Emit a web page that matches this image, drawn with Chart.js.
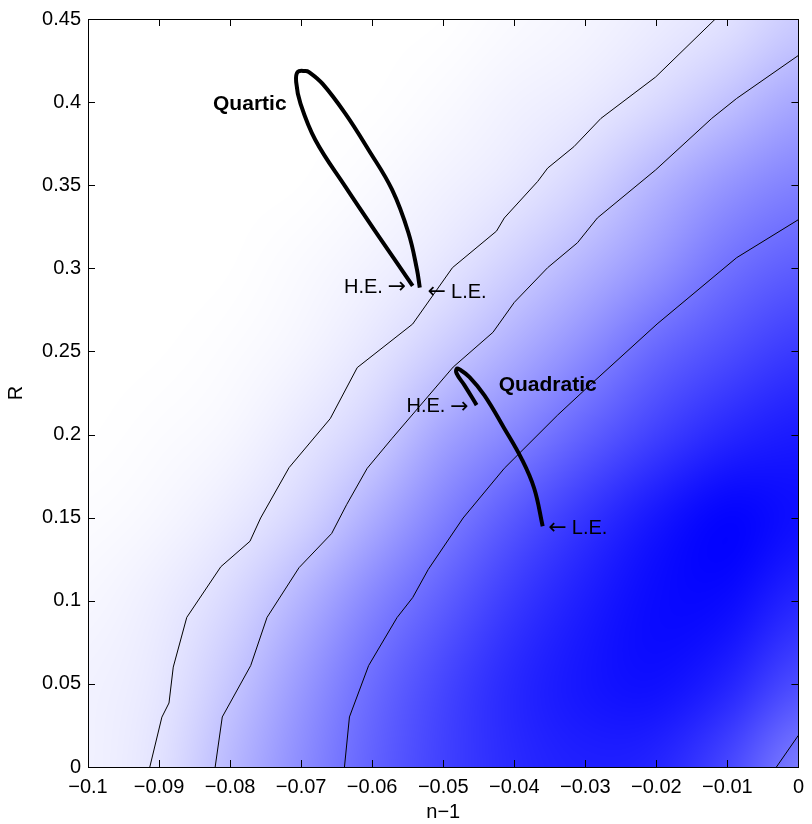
<!DOCTYPE html>
<html>
<head>
<meta charset="utf-8">
<script src="https://cdn.jsdelivr.net/npm/chart.js@4.4.1/dist/chart.umd.min.js"></script>
<style>
  html, body { margin: 0; padding: 0; background: #fff; }
  #chart { display: block; }
</style>
</head>
<body>
<canvas id="chart" width="812" height="824"></canvas>
<script>
// axis ticks
const xTicks = [-0.1, -0.09, -0.08, -0.07, -0.06, -0.05, -0.04, -0.03, -0.02, -0.01, 0];
const xTickLabels = ["\u22120.1", "\u22120.09", "\u22120.08", "\u22120.07", "\u22120.06", "\u22120.05",
  "\u22120.04", "\u22120.03", "\u22120.02", "\u22120.01", "0"];
const yTicks = [0, 0.05, 0.1, 0.15, 0.2, 0.25, 0.3, 0.35, 0.4, 0.45];
const yTickLabels = ["0", "0.05", "0.1", "0.15", "0.2", "0.25", "0.3", "0.35", "0.4", "0.45"];

// shading field (0 = white, 1 = full blue)
const gridX = [-0.1, -0.09, -0.08, -0.07, -0.06, -0.05, -0.04, -0.03, -0.02, -0.01, 0];
const gridY = [0, 0.05, 0.1, 0.15, 0.2, 0.25, 0.3, 0.35, 0.4, 0.45];
const shading = [
  [0.05, 0.11, 0.28, 0.45, 0.62, 0.75, 0.84, 0.88, 0.86, 0.72, 0.50], // R = 0
  [0.05, 0.09, 0.22, 0.40, 0.58, 0.73, 0.85, 0.92, 0.95, 0.87, 0.70], // 0.05
  [0.03, 0.07, 0.15, 0.30, 0.48, 0.63, 0.78, 0.89, 0.97, 0.97, 0.85], // 0.1
  [0.01, 0.03, 0.08, 0.16, 0.32, 0.50, 0.66, 0.80, 0.92, 1.00, 0.95], // 0.15
  [0.00, 0.01, 0.03, 0.09, 0.18, 0.36, 0.48, 0.62, 0.75, 0.85, 0.90], // 0.2
  [0.00, 0.00, 0.01, 0.04, 0.10, 0.20, 0.32, 0.45, 0.60, 0.70, 0.78], // 0.25
  [0.00, 0.00, 0.00, 0.02, 0.05, 0.10, 0.19, 0.30, 0.42, 0.56, 0.64], // 0.3
  [0.00, 0.00, 0.00, 0.00, 0.02, 0.05, 0.09, 0.17, 0.30, 0.42, 0.50], // 0.35
  [0.00, 0.00, 0.00, 0.00, 0.00, 0.02, 0.05, 0.08, 0.14, 0.24, 0.35], // 0.4
  [0.00, 0.00, 0.00, 0.00, 0.00, 0.00, 0.02, 0.04, 0.07, 0.11, 0.20]  // 0.45
];

// contour lines
const contour1X = [-0.0913, -0.0896, -0.0886, -0.0880, -0.0861, -0.0813, -0.0772, -0.0757, -0.0717, -0.0659,
  -0.0621, -0.0543, -0.0487, -0.0425, -0.0414, -0.0367, -0.0353, -0.0316, -0.0278, -0.0201, -0.0117];
const contour1Y = [0, 0.030, 0.0385, 0.0601, 0.0900, 0.1205, 0.1358, 0.1498, 0.1801, 0.2096,
  0.2403, 0.2665, 0.3004, 0.3224, 0.3303, 0.3523, 0.3603, 0.3732, 0.3902, 0.4151, 0.45];

const contour2X = [-0.0821, -0.0811, -0.0771, -0.0748, -0.0703, -0.0657, -0.0636, -0.0607, -0.0572, -0.0486,
  -0.0430, -0.0400, -0.0353, -0.0311, -0.0283, -0.0201, -0.0122, -0.0087, 0];
const contour2Y = [0, 0.0301, 0.0610, 0.0900, 0.1199, 0.1405, 0.1578, 0.1797, 0.1977, 0.2406,
  0.2615, 0.2795, 0.3004, 0.3154, 0.3303, 0.3592, 0.3902, 0.4022, 0.4281];

const contour3X = [-0.0639, -0.0632, -0.0605, -0.0565, -0.0543, -0.0521, -0.0472, -0.0414, -0.0339, -0.0299,
  -0.0199, -0.0087, 0];
const contour3Y = [0, 0.0301, 0.0610, 0.0899, 0.1019, 0.1189, 0.1498, 0.1797, 0.2117, 0.2276,
  0.2665, 0.3064, 0.3293];

const contour4X = [-0.0031, 0];
const contour4Y = [0, 0.0191];

// blade sections
const quarticX = [-0.0543, -0.0591, -0.0638, -0.0680, -0.0701, -0.0707, -0.0705, -0.0694, -0.0689, -0.0670,
  -0.0638, -0.0605, -0.0572, -0.0549, -0.0537, -0.0533];
const quarticY = [0.2895, 0.3194, 0.3493, 0.3772, 0.3992, 0.4121, 0.4181, 0.4187, 0.4181, 0.4111,
  0.3932, 0.3712, 0.3473, 0.3214, 0.2994, 0.2884];

const quadraticX = [-0.0453, -0.0470, -0.0481, -0.0481, -0.0477, -0.0463, -0.0442, -0.0414, -0.0390, -0.0372, -0.0360];
const quadraticY = [0.2177, 0.2296, 0.2366, 0.2396, 0.2392, 0.2346, 0.2236, 0.2037, 0.1857, 0.1677, 0.1448];

// annotations: arrow "r" points right (after text), "l" points left (before text)
const noteText = ["Quartic", "H.E.", "L.E.", "Quadratic", "H.E.", "L.E."];
const noteArrow = ["", "r", "l", "", "r", "l"];
const noteX = [-0.0824, -0.0552, -0.0522, -0.0422, -0.0464, -0.0352];
const noteY = [0.399, 0.2884, 0.2855, 0.2296, 0.2166, 0.1434];
const noteBold = [true, false, false, true, false, false];

const FONT = "'Liberation Sans', Arial, Helvetica, sans-serif";

function pts(xs, ys) {
  return xs.map((x, i) => ({ x: x, y: ys[i] }));
}

function lineSet(xs, ys, width, tension) {
  return {
    data: pts(xs, ys),
    showLine: true,
    borderColor: "#000",
    borderWidth: width,
    pointRadius: 0,
    borderJoinStyle: "round",
    tension: tension,
  };
}

// filled field under the lines
const shadePlugin = {
  id: "shade",
  beforeDatasetsDraw(chart) {
    const { ctx, chartArea: a, scales: { x, y } } = chart;
    const cols = gridX.length, rows = gridY.length;
    const off = document.createElement("canvas");
    off.width = cols;
    off.height = rows;
    const octx = off.getContext("2d");
    const img = octx.createImageData(cols, rows);
    for (let r = 0; r < rows; r++) {
      const row = shading[rows - 1 - r];
      for (let c = 0; c < cols; c++) {
        const i = (r * cols + c) * 4;
        const g = Math.round(255 * (1 - row[c]));
        img.data[i] = g;
        img.data[i + 1] = g;
        img.data[i + 2] = 255;
        img.data[i + 3] = 255;
      }
    }
    octx.putImageData(img, 0, 0);
    const dx = gridX[1] - gridX[0], dy = gridY[1] - gridY[0];
    const left = x.getPixelForValue(gridX[0] - dx / 2);
    const right = x.getPixelForValue(gridX[cols - 1] + dx / 2);
    const top = y.getPixelForValue(gridY[rows - 1] + dy / 2);
    const bottom = y.getPixelForValue(gridY[0] - dy / 2);
    ctx.save();
    ctx.beginPath();
    ctx.rect(a.left, a.top, a.right - a.left, a.bottom - a.top);
    ctx.clip();
    ctx.imageSmoothingEnabled = true;
    ctx.imageSmoothingQuality = "high";
    ctx.drawImage(off, left, top, right - left, bottom - top);
    ctx.restore();
  }
};

// box, inward ticks and text notes
const framePlugin = {
  id: "frame",
  afterDatasetsDraw(chart) {
    const { ctx, chartArea: a, scales: { x, y } } = chart;
    ctx.save();
    ctx.strokeStyle = "#000";
    ctx.lineWidth = 1;
    ctx.beginPath();
    xTicks.forEach(v => {
      const px = Math.round(x.getPixelForValue(v)) + 0.5;
      ctx.moveTo(px, a.bottom); ctx.lineTo(px, a.bottom - 7);
      ctx.moveTo(px, a.top); ctx.lineTo(px, a.top + 7);
    });
    yTicks.forEach(v => {
      const py = Math.round(y.getPixelForValue(v)) + 0.5;
      ctx.moveTo(a.left, py); ctx.lineTo(a.left + 7, py);
      ctx.moveTo(a.right, py); ctx.lineTo(a.right - 7, py);
    });
    ctx.stroke();
    ctx.strokeRect(Math.round(a.left) + 0.5, Math.round(a.top) + 0.5,
      Math.round(a.right - a.left), Math.round(a.bottom - a.top));

    ctx.fillStyle = "#000";
    ctx.textBaseline = "middle";
    const arrowFont = "22px 'DejaVu Sans', sans-serif";
    noteText.forEach((t, i) => {
      const px = x.getPixelForValue(noteX[i]);
      const py = y.getPixelForValue(noteY[i]);
      const textFont = noteBold[i] ? "bold 21px " + FONT : "20px " + FONT;
      if (noteArrow[i] === "r") {
        ctx.font = arrowFont;
        ctx.textAlign = "right";
        ctx.fillText("\u2192", px, py);
        const w = ctx.measureText("\u2192").width;
        ctx.font = textFont;
        ctx.fillText(t, px - w - 5, py);
      } else if (noteArrow[i] === "l") {
        ctx.font = arrowFont;
        ctx.textAlign = "left";
        ctx.fillText("\u2190", px, py);
        const w = ctx.measureText("\u2190").width;
        ctx.font = textFont;
        ctx.fillText(t, px + w + 5, py);
      } else {
        ctx.font = textFont;
        ctx.textAlign = "left";
        ctx.fillText(t, px, py);
      }
    });
    ctx.restore();
  }
};

const ctx = document.getElementById("chart").getContext("2d");
const chart = new Chart(ctx, {
  type: "scatter",
  data: {
    datasets: [
      lineSet(contour1X, contour1Y, 1, 0),
      lineSet(contour2X, contour2Y, 1, 0),
      lineSet(contour3X, contour3Y, 1, 0),
      lineSet(contour4X, contour4Y, 1, 0),
      lineSet(quarticX, quarticY, 4, 0.4),
      lineSet(quadraticX, quadraticY, 4, 0.4),
    ]
  },
  options: {
    responsive: false,
    animation: false,
    layout: { padding: { left: 0, right: 10, top: 15, bottom: 0 } },
    plugins: {
      legend: { display: false },
      tooltip: { enabled: false },
    },
    scales: {
      x: {
        type: "linear",
        position: "bottom",
        min: -0.1,
        max: 0,
        grid: { display: false, drawTicks: false },
        border: { display: false },
        afterBuildTicks: s => { s.ticks = xTicks.map(v => ({ value: v })); },
        afterFit: s => { s.height = 57; },
        ticks: {
          padding: 8,
          color: "#000",
          font: { family: FONT, size: 20 },
          maxRotation: 0,
          autoSkip: false,
          callback: v => xTickLabels[xTicks.findIndex(t => Math.abs(t - v) < 1e-9)],
        },
        title: {
          display: true,
          text: "n\u22121",
          color: "#000",
          font: { family: FONT, size: 20 },
          padding: { top: 0, bottom: 0 },
        },
      },
      y: {
        type: "linear",
        min: 0,
        max: 0.45,
        grid: { display: false, drawTicks: false },
        border: { display: false },
        afterBuildTicks: s => { s.ticks = yTicks.map(v => ({ value: v })); },
        afterFit: s => { s.width = 88; },
        ticks: {
          padding: 7,
          color: "#000",
          font: { family: FONT, size: 20 },
          autoSkip: false,
          callback: v => yTickLabels[yTicks.findIndex(t => Math.abs(t - v) < 1e-9)],
        },
        title: {
          display: true,
          text: "R",
          color: "#000",
          font: { family: FONT, size: 20 },
          padding: { top: 4, bottom: 0 },
        },
      },
    },
  },
  plugins: [shadePlugin, framePlugin],
});
</script>
</body>
</html>
